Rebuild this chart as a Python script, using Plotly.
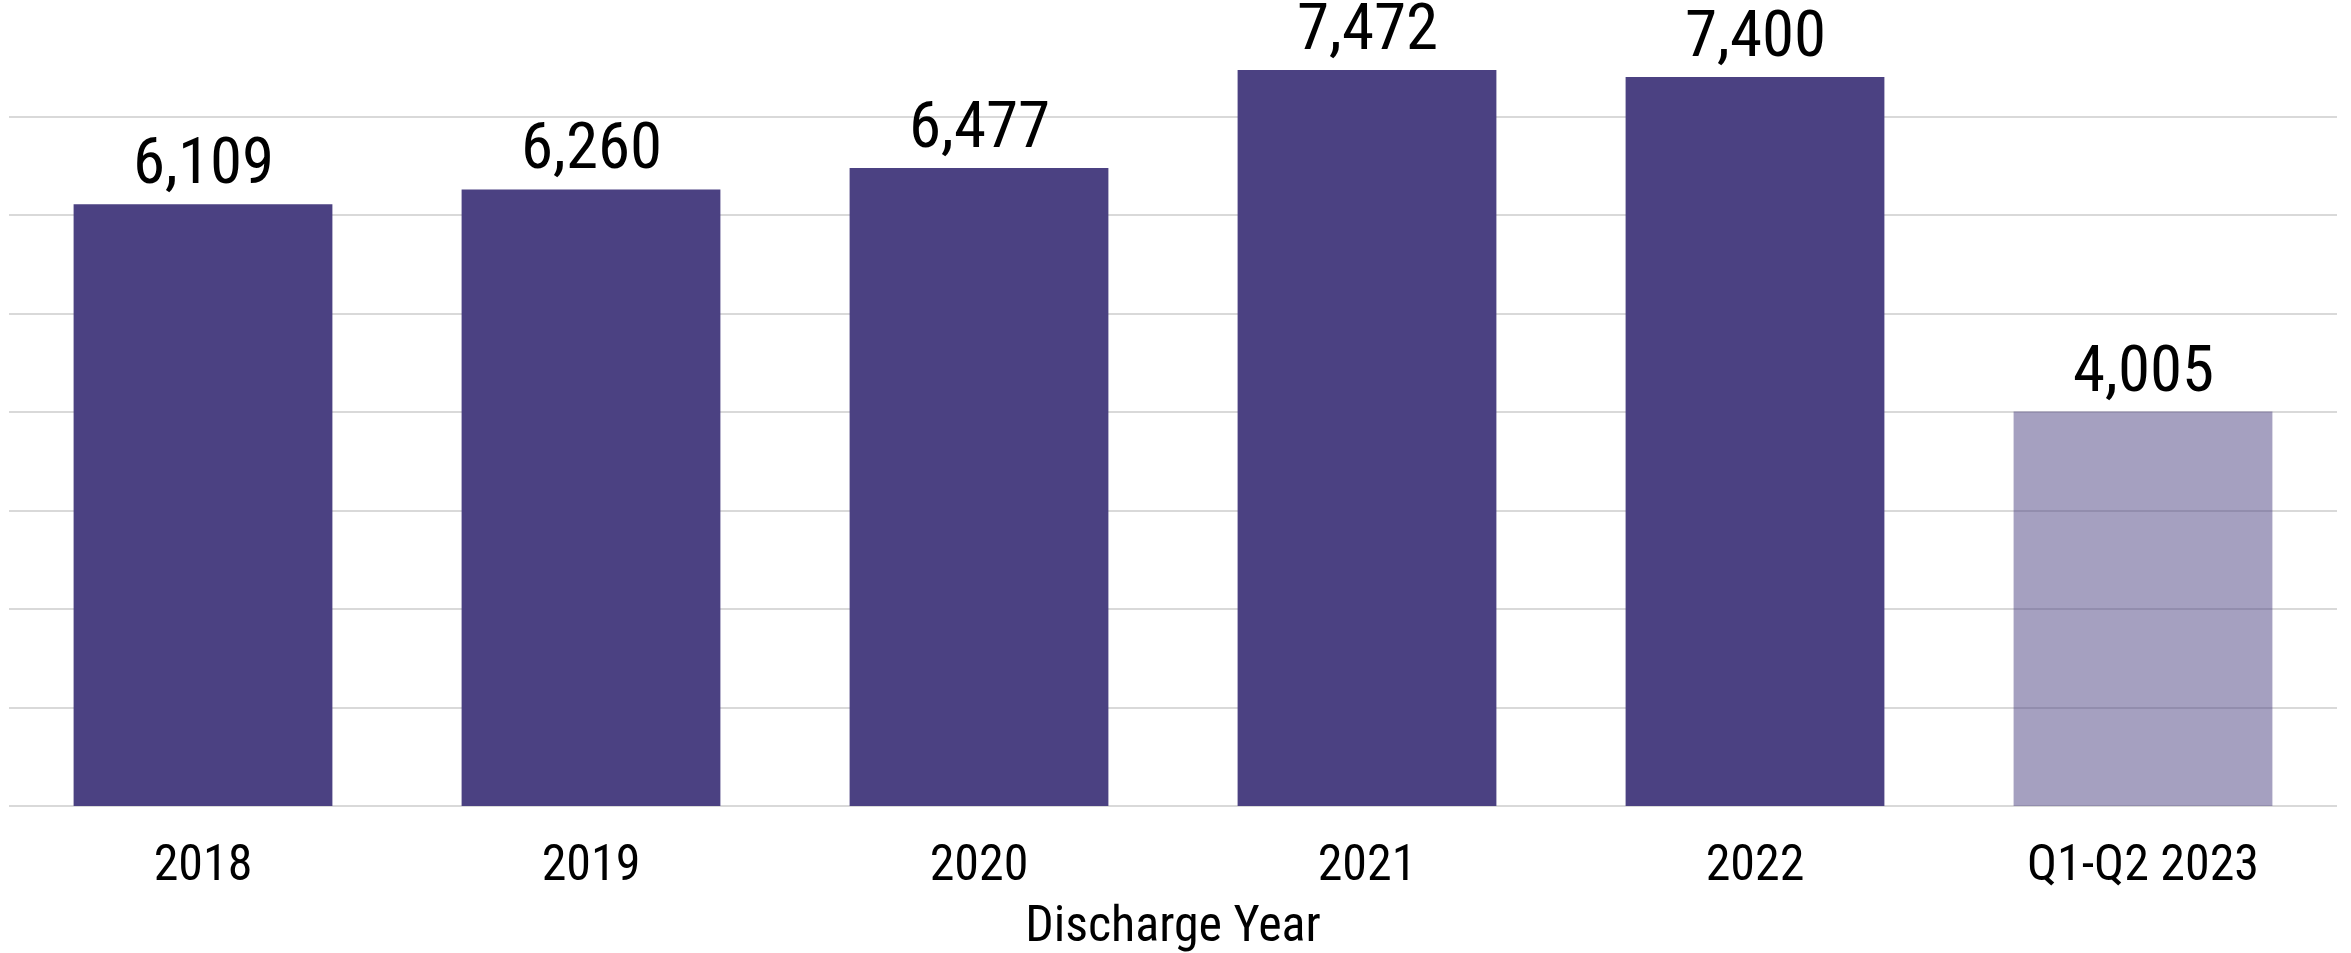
import plotly.graph_objects as go

categories = ["2018", "2019", "2020", "2021", "2022", "Q1-Q2 2023"]
discharges = [6109, 6260, 6477, 7472, 7400, 4005]
bar_colors = ["#4B4182", "#4B4182", "#4B4182", "#4B4182", "#4B4182", "rgba(75,65,130,0.5)"]
y_ticks = [0, 1000, 2000, 3000, 4000, 5000, 6000, 7000, 8000]

FONT = "Liberation Sans Narrow, Arial Narrow, Roboto Condensed, Liberation Sans, Arial, sans-serif"

fig = go.Figure(
    go.Bar(
        x=categories,
        y=discharges,
        marker=dict(color=bar_colors, line=dict(width=0)),
        width=0.667,
        hoverinfo="x+y",
    )
)

# value labels above bars (category index positions on the category axis)
for idx, val in enumerate(discharges):
    fig.add_annotation(
        x=idx,
        y=val,
        text=f"{val:,}",
        showarrow=False,
        yanchor="bottom",
        xanchor="center",
        yshift=3,
        font=dict(size=65, color="black", family=FONT),
    )

fig.update_layout(
    width=2351,
    height=953,
    margin=dict(l=9, r=14, t=18, b=147, autoexpand=False),
    plot_bgcolor="white",
    paper_bgcolor="white",
    showlegend=False,
    font=dict(family=FONT, color="black"),
    xaxis=dict(
        type="category",
        categoryorder="array",
        categoryarray=categories,
        range=[-0.5, len(categories) - 0.5],
        tickfont=dict(size=50, color="black"),
        title=dict(text="Discharge Year", font=dict(size=50, color="black"), standoff=15),
        showgrid=False,
        showline=False,
        ticks="",
        ticklabelstandoff=23,
        automargin=False,
    ),
    yaxis=dict(
        range=[0, 8000],
        tickvals=y_ticks,
        showticklabels=False,
        showgrid=True,
        gridcolor="#D9D9D9",
        gridwidth=2,
        zeroline=True,
        zerolinecolor="#D9D9D9",
        zerolinewidth=2,
        showline=False,
        ticks="",
        automargin=False,
    ),
)

fig.write_html(
    "out.html",
    config={"displayModeBar": False},
    post_script="document.body.style.margin='0';document.body.style.overflow='hidden';",
)
